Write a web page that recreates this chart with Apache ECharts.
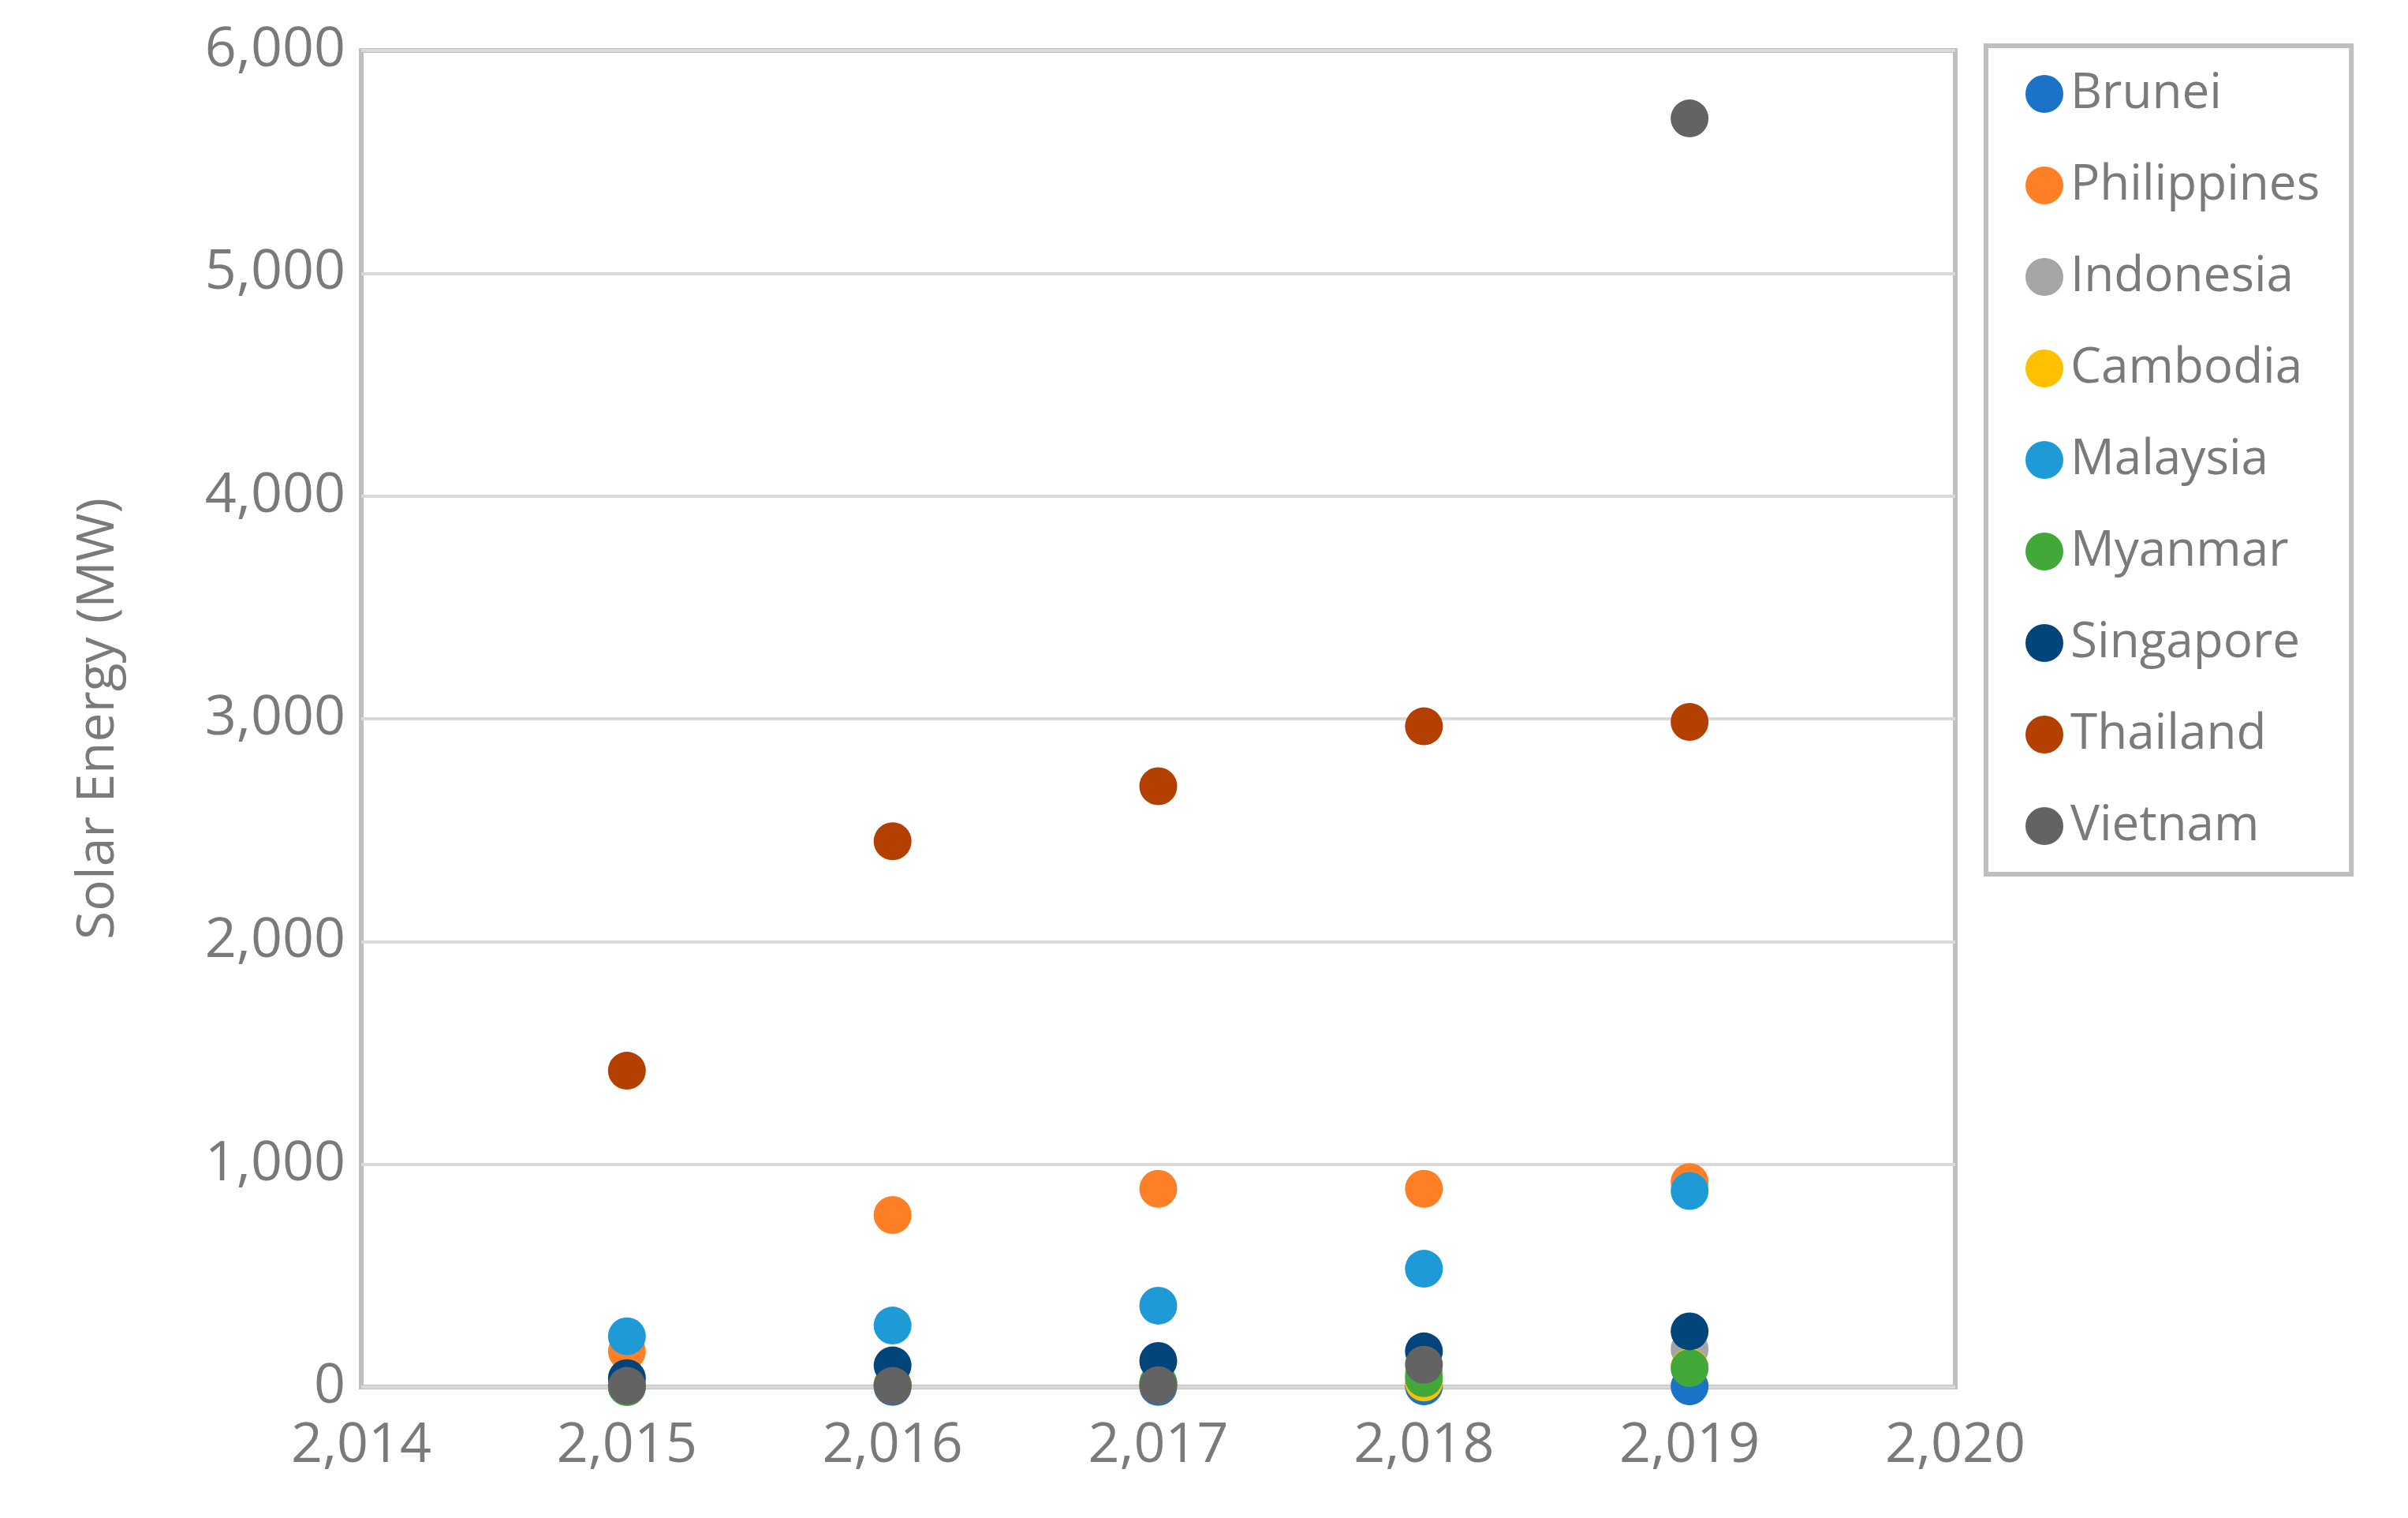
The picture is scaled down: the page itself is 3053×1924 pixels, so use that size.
<!DOCTYPE html>
<html><head><meta charset="utf-8">
<script src="https://cdn.jsdelivr.net/npm/echarts@6/dist/echarts.min.js"></script>
<style>html,body{margin:0;padding:0;background:#fff}#c{width:3053px;height:1924px}</style>
</head><body><div id="c"></div>
<script>
const years = [2015, 2016, 2017, 2018, 2019];
const countries = ['Brunei','Philippines','Indonesia','Cambodia','Malaysia','Myanmar','Singapore','Thailand','Vietnam'];
const colors = ['#1a73c8','#ff7f27','#a5a5a5','#ffc000','#1e9bd7','#43a83a','#02457a','#b34000','#636363'];
const brunei      = [1, 1, 1, 3, 3];
const philippines = [160, 772, 890, 890, 920];
const indonesia   = [10, 10, 15, 60, 170];
const cambodia    = [5, 10, 10, 20, 90];
const malaysia    = [228, 276, 365, 531, 880];
const myanmar     = [0, 10, 20, 40, 85];
const singapore   = [40, 97, 117, 160, 250];
const thailand    = [1420, 2450, 2697, 2966, 2986];
const vietnam     = [5, 5, 8, 100, 5695];
const values = [brunei, philippines, indonesia, cambodia, malaysia, myanmar, singapore, thailand, vietnam];
const fontF = '"Open Sans", "Noto Sans", sans-serif';
const txt = '#7a7a7a';
const chart = echarts.init(document.getElementById('c'));
chart.setOption({
  animation:false,
  grid:{left:458,right:3053-2479,top:64,bottom:1924-1758,show:true,borderColor:'#bfbfbf',borderWidth:6},
  legend:{orient:'vertical',left:2518,top:58,width:510,height:1046,padding:[30,40,30,50],itemGap:54,
    borderColor:'#bfbfbf',borderWidth:6,icon:'circle',itemWidth:48,itemHeight:48,
    textStyle:{fontSize:62,color:txt,fontFamily:fontF,padding:[0,0,0,4]}},
  xAxis:{type:'value',min:2014,max:2020,interval:1,
    axisLine:{show:false},axisTick:{show:false},splitLine:{show:false},
    axisLabel:{fontSize:70,color:txt,fontFamily:fontF,margin:40}},
  yAxis:{type:'value',min:0,max:6000,interval:1000,name:'Solar Energy (MW)',nameLocation:'middle',nameGap:300,
    nameTextStyle:{fontSize:66,color:txt,fontFamily:fontF},
    axisLine:{show:false},axisTick:{show:false},
    splitLine:{lineStyle:{color:'#d9d9d9',width:4}},
    axisLabel:{fontSize:70,color:txt,fontFamily:fontF,margin:20}},
  series: countries.map((n,i)=>({name:n,type:'scatter',symbolSize:48,itemStyle:{color:colors[i],opacity:1},
    data: years.map((y,j)=>[y, values[i][j]])}))
});
</script></body></html>
